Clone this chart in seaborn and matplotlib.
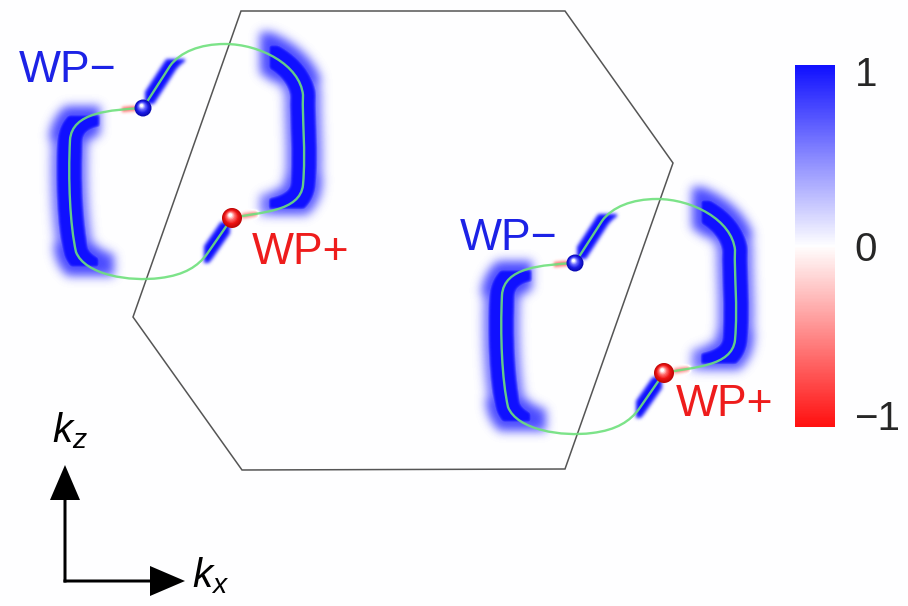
import numpy as np
import matplotlib
matplotlib.use("Agg")
import matplotlib.pyplot as plt
import matplotlib.transforms as mtransforms
from matplotlib.colors import ListedColormap
from matplotlib.path import Path
from matplotlib.patches import PathPatch, Polygon, Rectangle, Circle
import seaborn as sns

sns.set_theme(style="white")
plt.rcParams["font.family"] = ["Liberation Sans", "DejaVu Sans"]
plt.rcParams["mathtext.fontset"] = "custom"
plt.rcParams["mathtext.it"] = "Liberation Sans:italic"
plt.rcParams["mathtext.rm"] = "Liberation Sans"

W, H = 908, 606

# Surface Brillouin zone outline (kx, kz in pixel units)
zone_x = [241, 565, 673, 565, 242, 133]
zone_y = [11, 11, 163, 469, 470, 317]

# Fermi-arc contour through one Weyl pair: cubic Bezier control points
arc_pts = [(143, 108),
           (110, 110), (72, 112), (70, 140),
           (68, 180), (70, 225), (76, 252),
           (85, 275), (130, 282), (160, 278),
           (185, 275), (198, 266), (207, 254),
           (232, 218),
           (260, 212), (300, 212), (303, 185),
           (306, 150), (302, 120), (303, 95),
           (300, 65), (260, 44), (225, 44),
           (200, 44), (180, 52), (170, 66),
           (143, 108)]
arc_codes = ([Path.MOVETO] + [Path.CURVE4] * 12 + [Path.LINETO]
             + [Path.CURVE4] * 12 + [Path.LINETO])

# Offsets of the two symmetry-related contours
loop_dx = [0, 432]
loop_dy = [0, 155]

# Weyl points of the first contour
wp_minus = (143, 108)
wp_plus = (232, 218)

# Label anchors for each contour
minus_label_x = [68, 509]
minus_label_y = [70, 238]
plus_label_x = [301, 725]
plus_label_y = [253, 404]

# Spectral weight carried along the contour: clip box, stroke width, weight
core_box = [(40, 114, 100, 268), (268, 44, 342, 210), (145, 59, 185, 104), (204, 222, 230, 263)]
core_width = [27, 27, 14, 14]
core_weight = [1.0, 1.0, 1.0, 1.0]

haze_box = [(40, 106, 100, 140), (40, 244, 114, 276), (260, 32, 348, 82),
            (272, 176, 348, 215), (40, 106, 100, 276), (260, 32, 348, 215)]
haze_width = [42, 42, 42, 38, 36, 36]
haze_weight = [0.75, 0.75, 0.75, 0.7, 0.6, 0.6]

neg_box = [(122, 104, 136, 118), (242, 205, 258, 219)]
neg_width = [5, 5]
neg_weight = [0.6, 0.5]


def loop_path(dx, dy):
    pts = np.array(arc_pts, float) + [dx, dy]
    return Path(pts, arc_codes)


def blur(img, sigma):
    r = int(3 * sigma)
    k = np.exp(-0.5 * (np.arange(-r, r + 1) / sigma) ** 2)
    k /= k.sum()
    p = np.pad(img, ((r, r), (0, 0)))
    img = sum(k[i] * p[i:i + img.shape[0]] for i in range(2 * r + 1))
    p = np.pad(img, ((0, 0), (r, r)))
    img = sum(k[i] * p[:, i:i + img.shape[1]] for i in range(2 * r + 1))
    return img


def render(boxes, widths, weights):
    """Rasterise weighted strokes along both contours into a [0, 1] array."""
    f = plt.figure(figsize=(W / 100, H / 100), dpi=100, facecolor="white")
    a = f.add_axes([0, 0, 1, 1])
    a.set_xlim(0, W)
    a.set_ylim(H, 0)
    a.axis("off")
    order = np.argsort(weights)
    for dx, dy in zip(loop_dx, loop_dy):
        path = loop_path(dx, dy)
        for j in order:
            x0, y0, x1, y1 = boxes[j]
            clip = Rectangle((x0 + dx, y0 + dy), x1 - x0, y1 - y0, transform=a.transData)
            g = 1 - weights[j]
            p = PathPatch(path, fill=False, edgecolor=(g, g, g), lw=widths[j] * 0.72,
                          capstyle="butt", joinstyle="round")
            a.add_patch(p)
            p.set_clip_path(clip)
    f.canvas.draw()
    buf = np.asarray(f.canvas.buffer_rgba())[..., 0].astype(float) / 255.0
    plt.close(f)
    return 1.0 - buf


def sphere(ax, x, y, r, colors):
    shades = sns.blend_palette(colors, n_colors=10)
    for i, f in enumerate(np.linspace(1.0, 0.18, 10)):
        off = (1 - f) * r * 0.35
        ax.add_patch(Circle((x - off * 0.6, y - off), r * f, color=shades[i], lw=0, zorder=6))


# red - white - blue scale with an exact white centre
cmap = ListedColormap(sns.blend_palette(["#ff1010", "#ffffff", "#1010ff"], n_colors=255))

fig = plt.figure(figsize=(W / 100, H / 100), dpi=100, facecolor="white")
ax = fig.add_axes([0, 0, 1, 1])
ax.set_xlim(0, W)
ax.set_ylim(H, 0)
ax.axis("off")

core = blur(render(core_box, core_width, core_weight), 1.8)
haze = blur(render(haze_box, haze_width, haze_weight), 5.0)
neg = blur(render(neg_box, neg_width, neg_weight), 1.5)
field = np.clip(np.maximum(core, haze) - neg, -1, 1)
im = ax.imshow(field, extent=(0, W, H, 0), cmap=cmap, vmin=-1, vmax=1,
               interpolation="bilinear", zorder=1)

ax.add_patch(Polygon(np.column_stack([zone_x, zone_y]), closed=True, fill=False,
                     edgecolor="#555555", lw=1.1, zorder=2))

blue_txt = "#1c22e6"
red_txt = "#ee1c1c"
for i, (dx, dy) in enumerate(zip(loop_dx, loop_dy)):
    ax.add_patch(PathPatch(loop_path(dx, dy), fill=False, edgecolor="#6ee07c",
                           lw=1.7, alpha=0.9, zorder=3))
    sphere(ax, wp_minus[0] + dx, wp_minus[1] + dy, 8.5, ["#0a0ab4", "#1c1ce6", "#6a6aff", "#ffffff"])
    sphere(ax, wp_plus[0] + dx, wp_plus[1] + dy, 10, ["#c00808", "#ee1414", "#ff6a6a", "#ffffff"])
    ax.text(minus_label_x[i], minus_label_y[i], "WP\u2212", color=blue_txt, fontsize=32,
            ha="center", va="center", zorder=7)
    ax.text(plus_label_x[i], plus_label_y[i], "WP+", color=red_txt, fontsize=32,
            ha="center", va="center", zorder=7)

# momentum-axis arrows
ax.arrow(65, 582.5, 0, -117.5, width=3, head_width=30, head_length=35,
         length_includes_head=True, fc="black", ec="none", zorder=5)
ax.arrow(63.5, 581, 121.5, 0, width=3, head_width=30, head_length=35,
         length_includes_head=True, fc="black", ec="none", zorder=5)
ax.text(52, 442, "$k_z$", fontsize=29, ha="left", va="baseline", color="black")
ax.text(192, 587, "$k_x$", fontsize=29, ha="left", va="baseline", color="black")

# colour bar for the spectral weight
cax = fig.add_axes([795 / W, 1 - 427 / H, 40 / W, 362 / H])
cb = fig.colorbar(im, cax=cax, ticks=[-1, 0, 1])
cb.outline.set_visible(False)
cax.tick_params(length=0, labelsize=29, pad=14)
cb.set_ticklabels(["\u22121", "0", "1"])
shifts = [12, 0, -6]
for lab, s in zip(cax.get_yticklabels(), shifts):
    lab.set_transform(lab.get_transform()
                      + mtransforms.ScaledTranslation(0, s / 100, fig.dpi_scale_trans))

fig.savefig("out.png", dpi=100, facecolor="white")
